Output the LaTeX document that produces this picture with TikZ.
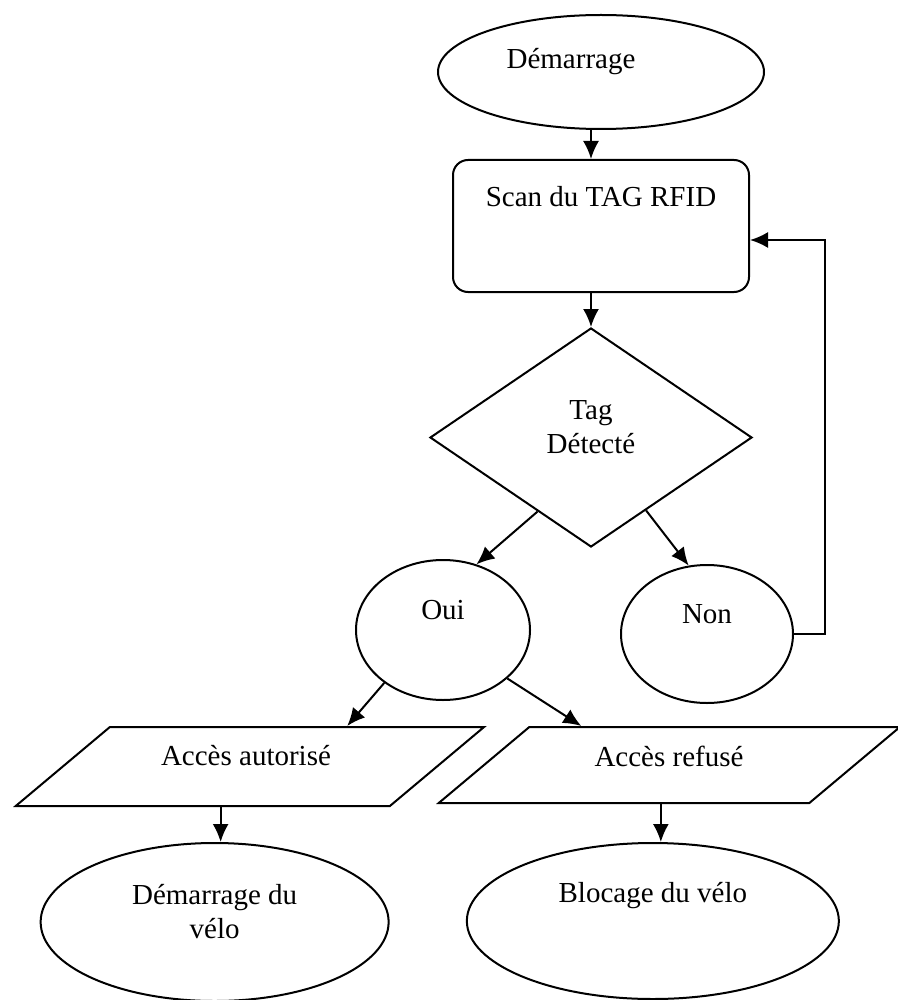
\documentclass[tikz,border=0pt]{standalone}
\usepackage{fontspec}
\setmainfont{Liberation Serif}
\usetikzlibrary{shapes.geometric,arrows.meta,calc,positioning}
\tikzset{
    -{Latex[length=18pt,width=16pt]},x=1pt,y=-1pt,
    font=\fontsize{29}{34}\selectfont,
    startstop/.style ={ellipse, draw, inner sep=0pt},
    process/.style ={rectangle, rounded corners=15pt, draw, inner sep=0pt},
    decision/.style ={diamond, draw, inner sep=0pt},
    io/.style ={trapezium, trapezium left angle=40, trapezium right angle=140,
        draw, inner sep=0pt, text width=280pt, text depth=0pt},
    txt/.style ={inner sep=0pt, align=center}
}
\begin{document}
\begin{tikzpicture}[line width=2pt]
    \useasboundingbox (0,0) rectangle (897,1000);

    \node[startstop, minimum width=326pt, minimum height=114pt] (start) at (601,72) {};
    \node[process, minimum width=296pt, minimum height=132pt] (scan) [below =29pt of start] {};
    \node[decision, minimum width=322pt, minimum height=219pt] (tag) [below =34pt of scan, xshift=-10pt] {};
    \node[startstop, minimum width=174pt, minimum height=140pt] (oui) [below =11pt of tag, xshift=-148pt] {};
    \node[startstop, minimum width=172pt, minimum height=138pt] (non) [below =16pt of tag, xshift=116pt] {};
    \node[io, text height=79pt, anchor=bottom left corner] (autorise) at (13,807) {};
    \node[io, text height=76pt, anchor=bottom left corner] (refuse) at (436,804) {};
    \node[startstop, minimum width=348pt, minimum height=158pt] (demvelo) [below =35pt of autorise.bottom side, xshift=13pt] {};
    \node[startstop, minimum width=372pt, minimum height=156pt] (blocage) [below =38pt of refuse.bottom side, xshift=30pt] {};

    \node[txt] (startT) at ([xshift=-30pt,yshift=10pt]start.center) {Démarrage};
    \node[txt] (scanT) at ([yshift=29pt]scan.center) {Scan du TAG RFID};
    \node[txt] (tagT) at ([yshift=10pt]tag.center) {Tag\\Détecté};
    \node[txt] (ouiT) at ([yshift=20pt]oui.center) {Oui};
    \node[txt] (nonT) at ([yshift=20pt]non.center) {Non};
    \node[txt] (autoriseT) at (246,756) {Accès autorisé};
    \node[txt] (refuseT) at (669,756) {Accès refusé};
    \node[txt] (demveloT) at ([yshift=10pt]demvelo.center) {Démarrage du\\vélo};
    \node[txt] (blocageT) at ([yshift=25pt]blocage.center) {Blocage du vélo};

    \draw (start.south -| tag.north) -- (scan.north -| tag.north);
    \draw (scan.south -| tag.north) -- (tag.north);
    \draw ($(tag.west)!0.67!(tag.south)$) -- (oui.63);
    \draw ($(tag.east)!0.66!(tag.south)$) -- (non.105);
    \draw (non.east) -- ++(31,0) |- ([yshift=-14pt]scan.east);
    \draw (oui.222) -- ($(autorise.top left corner)!0.63!(autorise.top right corner)$);
    \draw (oui.323) -- ($(refuse.top left corner)!0.14!(refuse.top right corner)$);
    \draw ([xshift=19pt]autorise.bottom side) coordinate (a1) -- (a1 |- demvelo.north);
    \draw ([xshift=38pt]refuse.bottom side) coordinate (r1) -- (r1 |- blocage.north);
\end{tikzpicture}
\end{document}
